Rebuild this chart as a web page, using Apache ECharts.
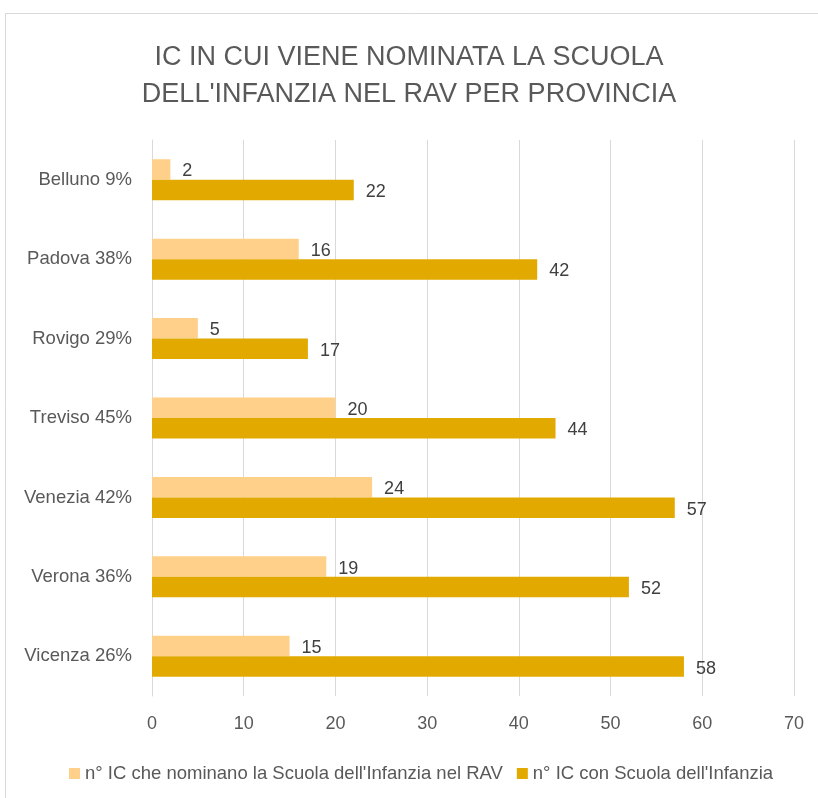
<!DOCTYPE html>
<html>
<head>
<meta charset="utf-8">
<script src="https://cdn.jsdelivr.net/npm/echarts@6/dist/echarts.min.js"></script>
<style>
html,body{margin:0;padding:0;background:#fff;}
#chart{width:818px;height:798px;}
</style>
</head>
<body>
<div id="chart"></div>
<script>
var categories = ['Belluno 9%', 'Padova 38%', 'Rovigo 29%', 'Treviso 45%', 'Venezia 42%', 'Verona 36%', 'Vicenza 26%'];
var seriesNames = ["n° IC che nominano la Scuola dell'Infanzia nel RAV", "n° IC con Scuola dell'Infanzia"];
var nominano = [2, 16, 5, 20, 24, 19, 15];
var totali = [22, 42, 17, 44, 57, 52, 58];
var xTicks = [0, 10, 20, 30, 40, 50, 60, 70];
var titleLines = ['IC IN CUI VIENE NOMINATA LA SCUOLA', "DELL'INFANZIA NEL RAV PER PROVINCIA"];

var FONT = '"Liberation Sans", Arial, sans-serif';
var chart = echarts.init(document.getElementById('chart'), null, {renderer: 'canvas'});

var labelStyle = {
  show: true, position: 'right', distance: 12, offset: [0, 2],
  color: '#404040', fontSize: 18, fontFamily: FONT
};

chart.setOption({
  animation: false,
  backgroundColor: '#ffffff',
  title: {
    text: titleLines.join('\n'),
    left: 'center', top: 34,
    textStyle: {
      fontFamily: FONT, fontSize: 27, fontWeight: 'normal',
      color: '#595959', lineHeight: 37
    }
  },
  graphic: [{
    type: 'rect', silent: true,
    shape: {x: 5.5, y: 13.5, width: 840, height: 820},
    style: {fill: 'none', stroke: '#D9D9D9', lineWidth: 1}
  }],
  legend: {
    left: 64, top: 759,
    itemWidth: 11, itemHeight: 11, itemGap: 14,
    icon: 'rect',
    textStyle: {fontFamily: FONT, fontSize: 18.5, color: '#595959'},
    data: seriesNames
  },
  grid: {left: 152, right: 24, top: 140, bottom: 102, containLabel: false},
  xAxis: {
    type: 'value', min: 0, max: 70, interval: 10,
    axisLine: {show: false},
    axisTick: {show: false},
    splitLine: {show: true, lineStyle: {color: '#D9D9D9', width: 1}},
    axisLabel: {
      color: '#595959', fontSize: 18, fontFamily: FONT, margin: 19,
      formatter: function (v) { return xTicks.indexOf(v) >= 0 ? String(v) : ''; }
    }
  },
  yAxis: {
    type: 'category', data: categories, inverse: true,
    axisLine: {show: true, lineStyle: {color: '#D9D9D9', width: 1}},
    axisTick: {show: false},
    axisLabel: {color: '#595959', fontSize: 18.5, fontFamily: FONT, margin: 20}
  },
  series: [
    {
      name: seriesNames[0], type: 'bar', data: nominano,
      barWidth: 20.5, barGap: '0%',
      itemStyle: {color: '#FFD08A'},
      label: labelStyle
    },
    {
      name: seriesNames[1], type: 'bar', data: totali,
      barWidth: 20.5, barGap: '0%',
      itemStyle: {color: '#E2AA00'},
      label: labelStyle
    }
  ]
});
</script>
</body>
</html>
